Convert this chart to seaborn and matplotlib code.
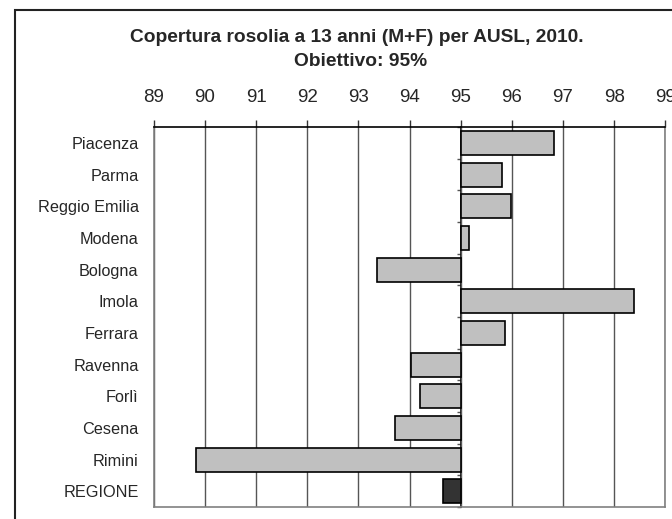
import numpy as np
import pandas as pd
import matplotlib
matplotlib.use("Agg")
import matplotlib.pyplot as plt
import seaborn as sns
from matplotlib.patches import Rectangle
from matplotlib.ticker import FuncFormatter

# Dati: copertura rosolia a 13 anni (%), obiettivo 95%
ausl = ["Piacenza", "Parma", "Reggio Emilia", "Modena", "Bologna", "Imola",
        "Ferrara", "Ravenna", "Forlì", "Cesena", "Rimini", "REGIONE"]
copertura = [96.83, 95.81, 95.98, 95.17, 93.36, 98.38,
             95.87, 94.03, 94.20, 93.71, 89.83, 94.65]
obiettivo = 95
colori = ["#C0C0C0"] * 11 + ["#333333"]

df = pd.DataFrame({"ausl": ausl, "copertura": copertura})
df["scarto"] = df["copertura"] - obiettivo

sns.set_theme(style="white")
plt.rcParams["font.family"] = ["Liberation Sans", "DejaVu Sans"]

fig = plt.figure(figsize=(6.72, 5.19), dpi=100)
ax = fig.add_axes([0.229, 0.023, 0.761, 0.732])

sns.barplot(data=df, x="scarto", y="ausl", hue="ausl", palette=colori,
            legend=False, orient="h", width=0.76, edgecolor="black",
            linewidth=1.2, ax=ax, zorder=3)

ax.set_xlim(89 - obiettivo, 99 - obiettivo)
ax.set_xticks(np.arange(89, 100) - obiettivo)
ax.xaxis.set_major_formatter(FuncFormatter(lambda v, p: f"{v + obiettivo:.0f}"))
ax.xaxis.tick_top()
ax.tick_params(axis="x", direction="out", length=5, width=1, color="#333333",
               pad=10.5, labelsize=13.5, top=True, bottom=False)
ax.tick_params(axis="y", length=0, pad=11, labelsize=11.7)
ax.set_xlabel("")
ax.set_ylabel("")
ax.grid(axis="x", color="#555555", linewidth=1, zorder=0)
ax.set_axisbelow(True)

for side in ["left", "right", "bottom"]:
    ax.spines[side].set_color("#808080")
    ax.spines[side].set_linewidth(1.2)
ax.spines["top"].set_color("black")
ax.spines["top"].set_linewidth(1.2)

# asse verticale che incrocia a 95, con tacche verso sinistra
asse95 = ax.secondary_yaxis((obiettivo - 89) / 10)
asse95.set_yticks(np.arange(-0.5, len(ausl), 1))
asse95.set_yticklabels([])
asse95.tick_params(direction="in", length=3, color="#555555", width=1)
for s in asse95.spines.values():
    s.set_color("black")
    s.set_linewidth(1.2)

fig.text(0.531, 0.928, "Copertura rosolia a 13 anni (M+F) per AUSL, 2010.",
         ha="center", va="center", fontsize=13.8, fontweight="bold")
fig.text(0.537, 0.882, "Obiettivo: 95%", ha="center", va="center",
         fontsize=13.8, fontweight="bold")

fig.add_artist(Rectangle((0.022, -0.2), 1.2, 1.181, transform=fig.transFigure,
                         fill=False, edgecolor="#222222", linewidth=1.5,
                         clip_on=False))

fig.savefig("out.png", dpi=100)
plt.close(fig)
